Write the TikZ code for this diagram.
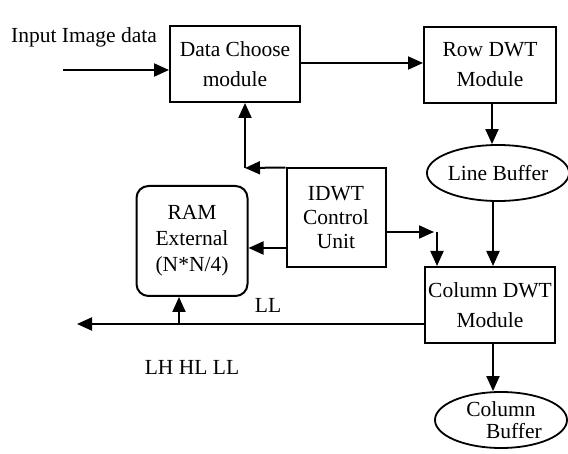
\documentclass[tikz,border=0pt]{standalone}
\usepackage{fontspec}
\setmainfont{Liberation Serif}
\usepackage{tikz}
\usetikzlibrary{positioning, arrows.meta, calc, shapes.geometric}

\tikzset{
  modbox/.style={draw, line width=2pt, align=center, minimum width=130pt, minimum height=76pt, inner sep=2pt},
  bufell/.style={draw, ellipse, line width=1.8pt, align=center, minimum width=132pt, minimum height=56pt, inner sep=0pt},
  flow/.style={line width=2pt, -{Triangle[length=15pt, width=13pt]}},
  wide/.style={font=\fontsize{21.5}{30}\selectfont}
}

\begin{document}
\begin{tikzpicture}[x=1pt, y=-1pt, font=\fontsize{21.5}{26}\selectfont]
  \useasboundingbox (0,0) rectangle (568,454);
  % modules
  \node[modbox, wide] (choose) at (235,64) {Data Choose\\module};
  \node[modbox, wide, minimum width=132pt] (rowdwt) at (490,65) {Row DWT\\Module};
  \node[bufell] (linebuf) at (498,173) {Line Buffer};
  \node[modbox, minimum width=99pt, minimum height=99pt, font=\fontsize{21.5}{24}\selectfont] (ctrl) at (336,218) {IDWT\\Control\\Unit};
  \node[modbox, rounded corners=12pt, minimum width=111pt, minimum height=110pt] (ram) at (192,241) {RAM\\External\\(N*N/4)};
  \node[modbox, wide] (coldwt) at (490,305) {Column DWT\\Module};
  \node[bufell, font=\fontsize{21.5}{22}\selectfont] (colbuf) at (501,420) {Column\\\hspace*{1.2em}Buffer};
  % labels
  \node (inlbl) at (84,37) {Input Image data};
  \node (lllbl) at (268,305) {LL};
  \node (outlbl) at (192,367) {LH HL LL};
  \coordinate (in) at (63,70);
  \coordinate (ctl) at (245,168);
  \coordinate (ctr) at (437,232);
  \coordinate (out) at (77,324);
  \coordinate (tap) at (179,324);
  % connectors
  \draw[flow] (in) -- (in -| choose.west);
  \draw[flow] (choose.east |- 0,63) -- (rowdwt.west |- 0,63);
  \draw[flow] (rowdwt.south -| 492,0) -- (linebuf.north -| 492,0);
  \draw[flow] (linebuf.south -| 493,0) -- (coldwt.north -| 493,0);
  \draw[flow] (ctrl.north west) -- (ctl);
  \draw[flow] (ctl) -- (ctl |- choose.south);
  \draw[flow] (ctrl.west |- 0,248) -- (ram.east |- 0,248);
  \draw[flow] (ctrl.east |- ctr) -- ($(ctr)+(-3,0)$);
  \draw[flow] (ctr) -- (ctr |- coldwt.north);
  \draw[flow] (coldwt.west |- out) -- (out);
  \draw[flow] (tap) -- (tap |- ram.south);
  \draw[flow] (coldwt.south -| 493,0) -- (colbuf.north -| 493,0);
\end{tikzpicture}
\end{document}
